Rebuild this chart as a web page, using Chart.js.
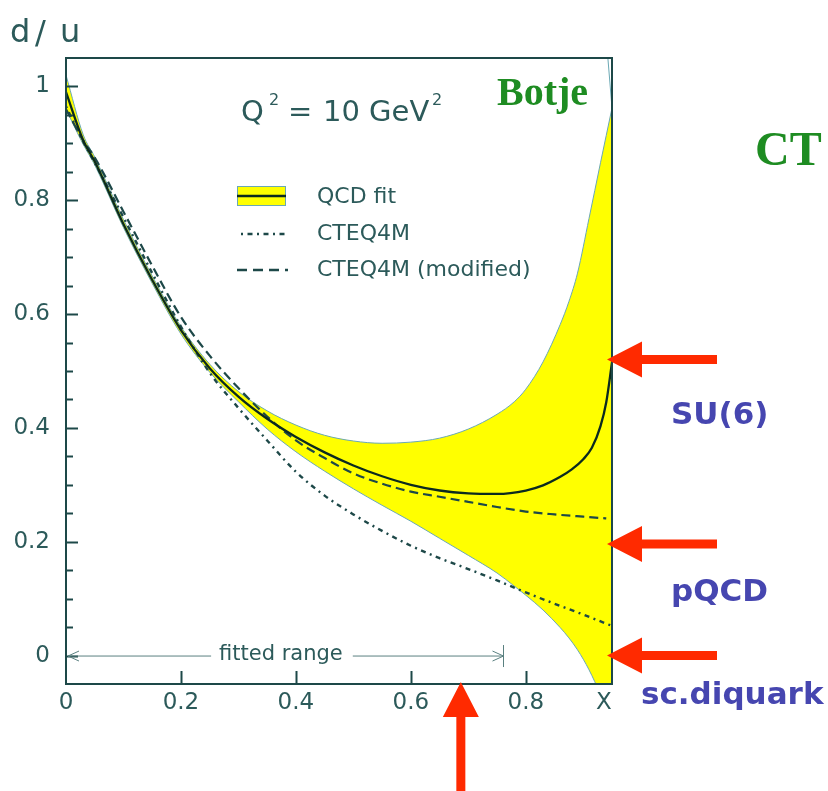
<!DOCTYPE html>
<html>
<head>
<meta charset="utf-8">
<script src="https://cdn.jsdelivr.net/npm/chart.js@4.4.0/dist/chart.umd.min.js"></script>
<style>
  html, body { margin: 0; padding: 0; background: #ffffff; }
  canvas { display: block; }
</style>
</head>
<body>
<canvas id="chart" width="828" height="791" style="width:828px;height:791px"></canvas>
<script>
// d/u ratio versus x at Q^2 = 10 GeV^2: QCD fit with its error band,
// CTEQ4M and a modified CTEQ4M parametrisation.

// Error band of the QCD fit (upper and lower edges on a shared x grid)
const bandX     = [0, 0.03, 0.05, 0.10, 0.15, 0.20, 0.25, 0.30, 0.35, 0.40, 0.45, 0.50, 0.55, 0.60, 0.65, 0.70, 0.75, 0.78, 0.80, 0.83, 0.86, 0.875, 0.89, 0.91, 0.93, 0.95];
const bandUpper = [1.02, 0.915, 0.876, 0.766, 0.667, 0.578, 0.512, 0.464, 0.430, 0.405, 0.387, 0.377, 0.373, 0.375, 0.382, 0.398, 0.424, 0.446, 0.468, 0.516, 0.582, 0.622, 0.672, 0.768, 0.866, 0.962];
const bandLower = [0.96, 0.898, 0.862, 0.752, 0.654, 0.565, 0.498, 0.446, 0.398, 0.358, 0.324, 0.293, 0.264, 0.236, 0.206, 0.176, 0.145, 0.122, 0.106, 0.080, 0.049, 0.031, 0.010, -0.025, -0.07, -0.13];

// Upper edge outline running on to the top of the frame
const edgeTailX = [0.95, 0.942];
const edgeTailY = [0.962, 1.06];

// Central QCD fit
const fitX = [0, 0.03, 0.05, 0.10, 0.15, 0.20, 0.25, 0.30, 0.35, 0.40, 0.45, 0.50, 0.55, 0.60, 0.65, 0.70, 0.75, 0.80, 0.83, 0.86, 0.88, 0.90, 0.915, 0.93, 0.94, 0.95];
const fitY = [0.99, 0.905, 0.868, 0.758, 0.660, 0.572, 0.505, 0.455, 0.416, 0.384, 0.357, 0.334, 0.315, 0.300, 0.290, 0.285, 0.284, 0.290, 0.299, 0.314, 0.327, 0.345, 0.365, 0.403, 0.445, 0.515];

// CTEQ4M
const cteqX = [0, 0.03, 0.05, 0.10, 0.15, 0.20, 0.25, 0.30, 0.35, 0.40, 0.45, 0.50, 0.55, 0.60, 0.65, 0.70, 0.75, 0.80, 0.85, 0.90, 0.95];
const cteqY = [0.965, 0.903, 0.866, 0.770, 0.672, 0.578, 0.497, 0.435, 0.378, 0.323, 0.281, 0.248, 0.219, 0.193, 0.171, 0.152, 0.132, 0.111, 0.091, 0.072, 0.052];

// CTEQ4M (modified)
const modX = [0, 0.03, 0.05, 0.10, 0.15, 0.20, 0.25, 0.30, 0.35, 0.40, 0.45, 0.50, 0.55, 0.60, 0.65, 0.70, 0.75, 0.80, 0.85, 0.90, 0.94];
const modY = [0.96, 0.905, 0.875, 0.780, 0.685, 0.595, 0.527, 0.470, 0.420, 0.378, 0.347, 0.320, 0.302, 0.288, 0.279, 0.270, 0.261, 0.253, 0.248, 0.244, 0.241];

// Axes
const xTickValues = [0, 0.2, 0.4, 0.6, 0.8, 0.95];
const xMin = 0, xMax = 0.95;
const yMin = -0.05, yMax = 1.05, yStep = 0.05;

// Annotations
const fittedRange = [0, 0.76];
const limitLevels = [0.52, 0.196, 0];
const limitLabels = ['SU(6)', 'pQCD', 'sc.diquark'];
const markedX = 0.687;

const AXIS = '#1d4848';
const TEXT = '#2c5a5a';
const EDGE = '#6aa8b4';
const YELLOW = '#ffff00';
const RED = '#ff2a00';
const BLUE = '#4646b0';
const GREEN = '#1e8c22';
const SANS = '"DejaVu Sans", sans-serif';

const pts = (xs, ys) => xs.map((x, i) => ({ x: x, y: ys[i] }));

const isMajor = v => Math.abs(v * 5 - Math.round(v * 5)) < 1e-6;
const fmt = v => {
  const r = Math.round(v * 100) / 100;
  if (Math.abs(r) < 1e-9) return '0';
  if (Math.abs(r - 1) < 1e-9) return '1';
  return r.toFixed(1);
};

function arrowLeft(ctx, tipX, tipY, tailX) {
  const head = 35, half = 18, shaft = 4.5;
  ctx.beginPath();
  ctx.moveTo(tipX, tipY);
  ctx.lineTo(tipX + head, tipY - half);
  ctx.lineTo(tipX + head, tipY - shaft);
  ctx.lineTo(tailX, tipY - shaft);
  ctx.lineTo(tailX, tipY + shaft);
  ctx.lineTo(tipX + head, tipY + shaft);
  ctx.lineTo(tipX + head, tipY + half);
  ctx.closePath();
  ctx.fill();
}

function arrowUp(ctx, tipX, tipY, tailY) {
  const head = 35, half = 18, shaft = 4.5;
  ctx.beginPath();
  ctx.moveTo(tipX, tipY);
  ctx.lineTo(tipX + half, tipY + head);
  ctx.lineTo(tipX + shaft, tipY + head);
  ctx.lineTo(tipX + shaft, tailY);
  ctx.lineTo(tipX - shaft, tailY);
  ctx.lineTo(tipX - shaft, tipY + head);
  ctx.lineTo(tipX - half, tipY + head);
  ctx.closePath();
  ctx.fill();
}

const overlay = {
  id: 'overlay',
  afterDatasetsDraw(chart) {
    const { ctx, chartArea: a, scales: { x, y } } = chart;
    ctx.save();
    // inward tick marks
    ctx.strokeStyle = AXIS;
    ctx.lineWidth = 2;
    y.ticks.forEach(t => {
      const v = t.value;
      if (v <= yMin + 1e-6 || v >= yMax - 1e-6) return;
      const py = Math.round(y.getPixelForValue(v)) + 0.5;
      const len = isMajor(v) ? 12 : 7;
      ctx.beginPath();
      ctx.moveTo(a.left, py);
      ctx.lineTo(a.left + len, py);
      ctx.stroke();
    });
    xTickValues.forEach(v => {
      if (v <= xMin || v >= xMax) return;
      const px = Math.round(x.getPixelForValue(v)) + 0.5;
      ctx.beginPath();
      ctx.moveTo(px, a.bottom);
      ctx.lineTo(px, a.bottom - 13);
      ctx.stroke();
    });
    // frame
    ctx.strokeRect(a.left, a.top, a.right - a.left, a.bottom - a.top);

    // "fitted range" marker along d/u = 0
    const y0 = y.getPixelForValue(0) + 0.5;
    const xa = x.getPixelForValue(fittedRange[0]) + 2;
    const xb = Math.round(x.getPixelForValue(fittedRange[1])) + 0.5;
    ctx.font = '21px ' + SANS;
    const label = 'fitted range';
    const tw = ctx.measureText(label).width;
    const xc = x.getPixelForValue(0.374);
    ctx.strokeStyle = '#5a8080';
    ctx.lineWidth = 1;
    ctx.beginPath();
    ctx.moveTo(xa, y0); ctx.lineTo(xc - tw / 2 - 8, y0);
    ctx.moveTo(xc + tw / 2 + 10, y0); ctx.lineTo(xb, y0);
    ctx.moveTo(xa + 11, y0 - 5); ctx.lineTo(xa, y0); ctx.lineTo(xa + 11, y0 + 5);
    ctx.moveTo(xb - 11, y0 - 5); ctx.lineTo(xb, y0); ctx.lineTo(xb - 11, y0 + 5);
    ctx.moveTo(xb, y0 - 11); ctx.lineTo(xb, y0 + 11);
    ctx.stroke();
    ctx.fillStyle = TEXT;
    ctx.textAlign = 'center';
    ctx.textBaseline = 'middle';
    ctx.fillText(label, xc, y0 - 1);
    ctx.restore();
  },
  afterDraw(chart) {
    const { ctx, chartArea: a, scales: { x, y } } = chart;
    ctx.save();
    ctx.fillStyle = TEXT;
    ctx.textBaseline = 'alphabetic';
    ctx.textAlign = 'left';

    // axis titles
    ctx.font = '32px ' + SANS;
    ctx.fillText('d', 10, 42);
    ctx.fillText('/', 35, 43);
    ctx.fillText('u', 60, 42);
    ctx.font = '23px ' + SANS;
    ctx.textAlign = 'center';
    ctx.fillText('X', a.right - 8, 709);

    // Q^2 = 10 GeV^2
    ctx.textAlign = 'left';
    ctx.font = '29px ' + SANS;
    ctx.fillText('Q', 241, 121);
    ctx.fillText('=', 288, 121);
    ctx.fillText('10 GeV', 323, 121);
    ctx.font = '16px ' + SANS;
    ctx.fillText('2', 269, 105);
    ctx.fillText('2', 432, 105);

    // legend
    ctx.font = '22px ' + SANS;
    ctx.textBaseline = 'middle';
    ctx.fillStyle = YELLOW;
    ctx.fillRect(237, 186, 49, 20);
    ctx.strokeStyle = EDGE;
    ctx.lineWidth = 1;
    ctx.strokeRect(237.5, 186.5, 48, 19);
    ctx.strokeStyle = '#0b2a1f';
    ctx.lineWidth = 2.3;
    ctx.beginPath(); ctx.moveTo(237, 196); ctx.lineTo(286, 196); ctx.stroke();
    ctx.strokeStyle = AXIS;
    ctx.lineWidth = 2.4;
    ctx.setLineDash([2, 4.5, 5, 4.5]);
    ctx.beginPath(); ctx.moveTo(241, 234); ctx.lineTo(287, 234); ctx.stroke();
    ctx.setLineDash([10, 6]);
    ctx.beginPath(); ctx.moveTo(237, 270); ctx.lineTo(288, 270); ctx.stroke();
    ctx.setLineDash([]);
    ctx.fillStyle = TEXT;
    ctx.fillText('QCD fit', 317, 197);
    ctx.fillText('CTEQ4M', 317, 234);
    ctx.fillText('CTEQ4M (modified)', 317, 270);

    // author tags
    ctx.fillStyle = GREEN;
    ctx.textBaseline = 'alphabetic';
    ctx.font = 'bold 40px "Liberation Serif", serif';
    ctx.fillText('Botje', 497, 105);
    ctx.font = 'bold 48px "Liberation Serif", serif';
    ctx.fillText('CT', 755, 165);

    // limits at x -> 1
    ctx.fillStyle = RED;
    limitLevels.forEach(v => {
      arrowLeft(ctx, a.right - 5, y.getPixelForValue(v), 717);
    });
    arrowUp(ctx, x.getPixelForValue(markedX), a.bottom - 2, 791);

    ctx.fillStyle = BLUE;
    ctx.font = 'bold 31px ' + SANS;
    ctx.textBaseline = 'middle';
    ctx.fillText(limitLabels[0], 671, 416);
    ctx.fillText(limitLabels[1], 671, 593);
    ctx.fillText(limitLabels[2], 641, 696);
    ctx.restore();
  }
};

new Chart(document.getElementById('chart'), {
  type: 'line',
  data: {
    datasets: [
      {
        label: 'band upper',
        data: pts(bandX, bandUpper),
        borderColor: EDGE, borderWidth: 1,
        backgroundColor: YELLOW,
        fill: 1,
        pointRadius: 0,
        cubicInterpolationMode: 'monotone',
        order: 10
      },
      {
        label: 'band lower',
        data: pts(bandX, bandLower),
        borderColor: EDGE, borderWidth: 1,
        fill: false,
        pointRadius: 0,
        cubicInterpolationMode: 'monotone',
        order: 9
      },
      {
        label: 'band edge',
        data: pts(edgeTailX, edgeTailY),
        borderColor: EDGE, borderWidth: 1,
        fill: false, pointRadius: 0,
        order: 8
      },
      {
        label: 'CTEQ4M',
        data: pts(cteqX, cteqY),
        borderColor: AXIS, borderWidth: 2.4,
        borderDash: [2, 4.5, 5, 4.5],
        fill: false, pointRadius: 0,
        cubicInterpolationMode: 'monotone',
        order: 3
      },
      {
        label: 'CTEQ4M (modified)',
        data: pts(modX, modY),
        borderColor: AXIS, borderWidth: 2.2,
        borderDash: [9, 5],
        fill: false, pointRadius: 0,
        cubicInterpolationMode: 'monotone',
        order: 2
      },
      {
        label: 'QCD fit',
        data: pts(fitX, fitY),
        borderColor: '#0b2a1f', borderWidth: 2.3,
        fill: false, pointRadius: 0,
        cubicInterpolationMode: 'monotone',
        order: 1
      }
    ]
  },
  options: {
    responsive: false,
    animation: false,
    devicePixelRatio: 1,
    layout: { padding: { top: 58, right: 216, left: 0, bottom: 0 } },
    plugins: { legend: { display: false }, tooltip: { enabled: false } },
    scales: {
      x: {
        type: 'linear',
        min: xMin, max: xMax,
        afterBuildTicks: s => { s.ticks = xTickValues.map(v => ({ value: v })); },
        afterFit: s => { s.height = 107; },
        grid: { display: false, drawTicks: false },
        border: { display: false },
        ticks: {
          autoSkip: false, maxRotation: 0, padding: 5,
          color: TEXT,
          font: { family: SANS, size: 23 },
          callback: v => (v >= xMax - 1e-6 ? '' : fmt(v))
        }
      },
      y: {
        type: 'linear',
        min: yMin, max: yMax,
        afterFit: s => { s.width = 66; },
        grid: { display: false, drawTicks: false },
        border: { display: false },
        ticks: {
          stepSize: yStep, autoSkip: false, padding: 16,
          color: TEXT,
          font: { family: SANS, size: 23 },
          callback: v => (isMajor(v) && v > yMin + 1e-6 && v < yMax - 1e-6 ? fmt(v) : '')
        }
      }
    }
  },
  plugins: [overlay]
});
</script>
</body>
</html>
